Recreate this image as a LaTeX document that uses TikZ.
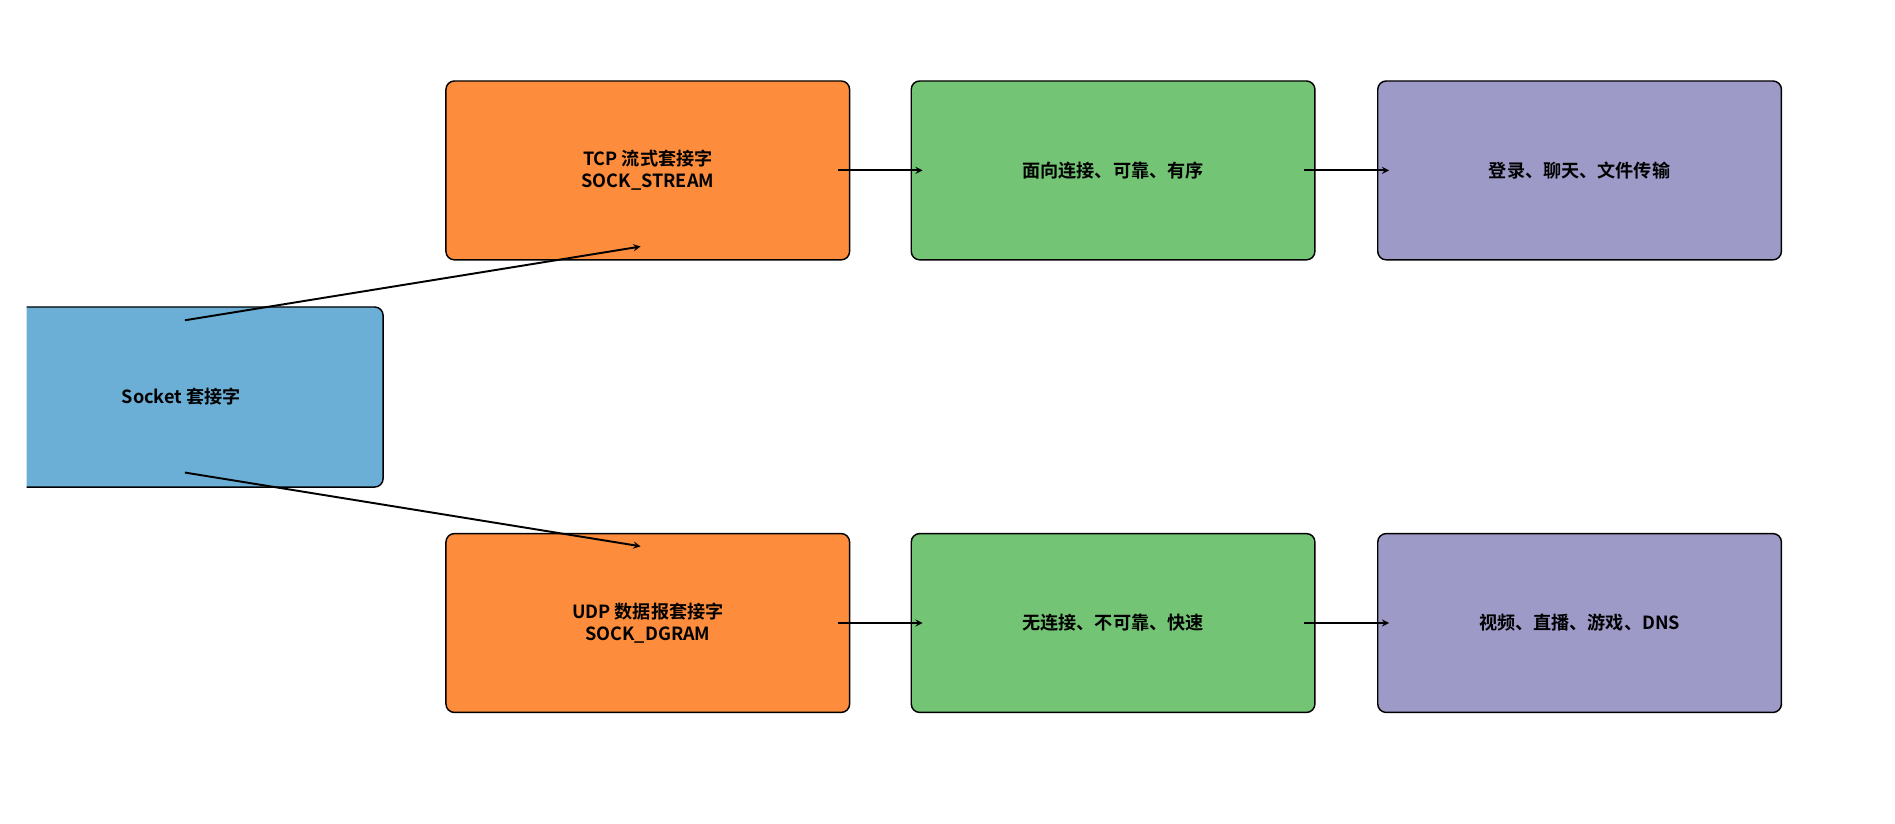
\documentclass[tikz,border=0pt]{standalone}
\usepackage{fontspec}
\setmainfont{Noto Sans CJK SC}[BoldFont={Noto Sans CJK SC Bold}]
\begin{document}
\begin{tikzpicture}[x=1pt,y=-1pt,
  box/.style={draw=black,line width=1.2pt,rounded corners=7pt,minimum width=334pt,minimum height=148pt,font=\bfseries\fontsize{15}{18}\selectfont,align=center,inner sep=0pt},
  arr/.style={-stealth,line width=1.6pt}]
\useasboundingbox (0,0) rectangle (1568,681);
\definecolor{cor}{HTML}{FD8D3C}\definecolor{cgr}{HTML}{74C476}
\definecolor{cpu}{HTML}{9E9AC8}\definecolor{cbl}{HTML}{6BAED6}
\begin{scope}
\clip (22,0) rectangle (1568,681);
\node[box,fill=cbl,minimum width=340pt,minimum height=149pt] (s) at (147,328.5) {};
\end{scope}
\node[font=\bfseries\fontsize{15}{18}\selectfont] (sl) at (150,328) {Socket 套接字};
\node[box,fill=cor] (t) at (536,141) {TCP 流式套接字\\SOCK\_STREAM};
\node[box,fill=cgr] (t2) at (921,141) {面向连接、可靠、有序};
\node[box,fill=cpu] (t3) at (1307,141) {登录、聊天、文件传输};
\node[box,fill=cor] (u) at (536,515.5) {UDP 数据报套接字\\SOCK\_DGRAM};
\node[box,fill=cgr] (u2) at (921,515.5) {无连接、不可靠、快速};
\node[box,fill=cpu] (u3) at (1307,515.5) {视频、直播、游戏、DNS};
\coordinate (a1) at (153,265); \coordinate (b1) at (530,204);
\coordinate (a2) at (153,391); \coordinate (b2) at (530,452);
\draw[arr] (a1) -- (b1);
\draw[arr] (a2) -- (b2);
\draw[arr] ([xshift=-10pt]t.east) -- ([xshift=10pt]t2.west);
\draw[arr] ([xshift=-10pt]t2.east) -- ([xshift=10pt]t3.west);
\draw[arr] ([xshift=-10pt]u.east) -- ([xshift=10pt]u2.west);
\draw[arr] ([xshift=-10pt]u2.east) -- ([xshift=10pt]u3.west);
\end{tikzpicture}
\end{document}
